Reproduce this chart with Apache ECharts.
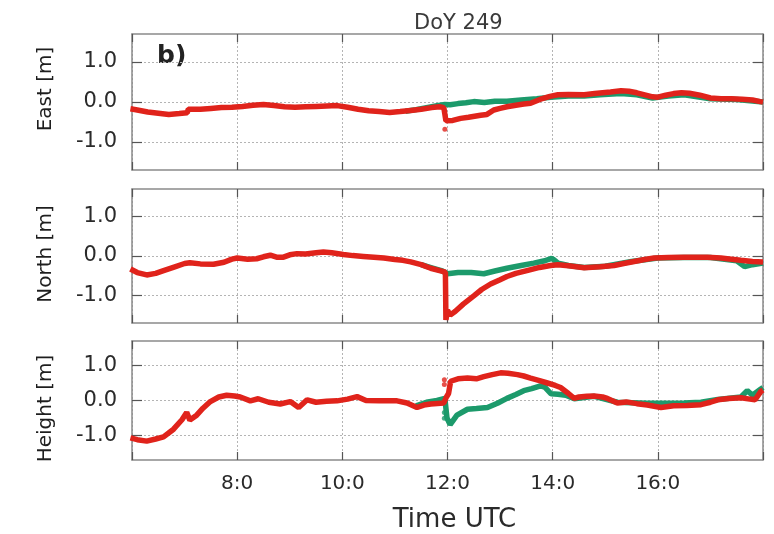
<!DOCTYPE html>
<html><head><meta charset="utf-8">
<script src="https://cdn.jsdelivr.net/npm/echarts@6/dist/echarts.min.js"></script>
<style>html,body{margin:0;padding:0;background:#fff}#c{width:774px;height:534px}</style>
</head><body><div id="c"></div>
<script>
const titleText = 'DoY 249';
const panelTag = 'b)';
const xAxisTitle = 'Time UTC';
const panelNames = ['East [m]', 'North [m]', 'Height [m]'];
const xTickValues = [8, 10, 12, 14, 16];
const xTickLabels = ['8:0', '10:0', '12:0', '14:0', '16:0'];
const yTickValues = [-1, 0, 1];
const yTickLabels = ['-1.0', '0.0', '1.0'];

// East component [time h, metres]
const eastRed = [[5.97,-0.17],[6.1,-0.2],[6.3,-0.25],[6.5,-0.28],[6.7,-0.31],[6.9,-0.29],[7.05,-0.27],[7.07,-0.18],[7.3,-0.18],[7.5,-0.16],[7.7,-0.14],[7.9,-0.13],[8.1,-0.11],[8.3,-0.08],[8.5,-0.06],[8.7,-0.09],[8.9,-0.12],[9.1,-0.13],[9.3,-0.12],[9.5,-0.11],[9.7,-0.1],[9.9,-0.09],[10.1,-0.13],[10.3,-0.18],[10.5,-0.22],[10.7,-0.24],[10.9,-0.26],[11.1,-0.24],[11.3,-0.21],[11.5,-0.18],[11.7,-0.14],[11.85,-0.12],[11.93,-0.14],[11.97,-0.47],[12.0,-0.48],[12.1,-0.46],[12.25,-0.41],[12.4,-0.38],[12.63,-0.33],[12.75,-0.31],[12.88,-0.2],[13.0,-0.16],[13.13,-0.12],[13.3,-0.08],[13.45,-0.05],[13.58,-0.03],[13.77,0.07],[13.95,0.14],[14.1,0.18],[14.3,0.19],[14.6,0.18],[14.8,0.21],[14.95,0.23],[15.1,0.25],[15.3,0.28],[15.45,0.27],[15.6,0.23],[15.75,0.18],[15.9,0.13],[16.0,0.12],[16.15,0.17],[16.3,0.21],[16.45,0.23],[16.6,0.22],[16.8,0.17],[17.0,0.1],[17.2,0.08],[17.4,0.08],[17.6,0.07],[17.8,0.05],[17.95,0.01],[18.0,0.0]];
const eastGreen = [[11.2,-0.23],[11.4,-0.19],[11.6,-0.14],[11.8,-0.09],[11.95,-0.06],[12.05,-0.07],[12.2,-0.04],[12.35,-0.02],[12.5,0.01],[12.7,-0.01],[12.9,0.02],[13.13,0.02],[13.4,0.05],[13.7,0.08],[13.96,0.12],[14.3,0.15],[14.6,0.15],[14.9,0.18],[15.3,0.21],[15.6,0.18],[15.9,0.1],[16.2,0.15],[16.5,0.18],[17.0,0.08],[17.5,0.06],[18.0,0.0]];
const eastRedDots = [[11.95,-0.68]];
const eastGreenDots = [];

// North component
const northRed = [[5.97,-0.33],[6.1,-0.42],[6.28,-0.48],[6.45,-0.44],[6.6,-0.37],[6.8,-0.28],[7.0,-0.19],[7.1,-0.17],[7.3,-0.2],[7.55,-0.21],[7.75,-0.16],[7.9,-0.08],[8.0,-0.05],[8.2,-0.08],[8.37,-0.07],[8.5,-0.02],[8.63,0.02],[8.75,-0.03],[8.88,-0.03],[9.0,0.03],[9.14,0.06],[9.3,0.05],[9.5,0.08],[9.64,0.1],[9.8,0.08],[10.02,0.04],[10.2,0.01],[10.4,-0.01],[10.6,-0.03],[10.79,-0.05],[11.0,-0.09],[11.15,-0.11],[11.3,-0.15],[11.5,-0.22],[11.68,-0.31],[11.85,-0.37],[11.96,-0.41],[11.97,-1.62],[12.0,-1.38],[12.05,-1.5],[12.15,-1.4],[12.3,-1.22],[12.5,-1.01],[12.65,-0.85],[12.82,-0.71],[13.0,-0.6],[13.13,-0.52],[13.3,-0.44],[13.51,-0.37],[13.75,-0.29],[13.96,-0.24],[14.1,-0.22],[14.3,-0.25],[14.6,-0.3],[14.9,-0.27],[15.17,-0.24],[15.35,-0.19],[15.55,-0.14],[15.75,-0.09],[15.93,-0.05],[16.2,-0.04],[16.5,-0.03],[16.94,-0.03],[17.2,-0.05],[17.4,-0.08],[17.58,-0.11],[17.8,-0.14],[18.0,-0.15]];
const northGreen = [[11.5,-0.22],[11.7,-0.3],[11.9,-0.38],[12.0,-0.45],[12.2,-0.42],[12.45,-0.42],[12.69,-0.45],[12.9,-0.38],[13.13,-0.31],[13.4,-0.24],[13.64,-0.18],[13.85,-0.12],[13.98,-0.06],[14.02,-0.09],[14.1,-0.18],[14.3,-0.24],[14.6,-0.29],[15.0,-0.26],[15.5,-0.14],[16.0,-0.05],[16.5,-0.04],[17.0,-0.04],[17.5,-0.12],[17.65,-0.27],[17.8,-0.22],[18.0,-0.18]];
const northRedDots = [];
const northGreenDots = [];

// Height component
const heightRed = [[5.97,-1.07],[6.1,-1.12],[6.28,-1.16],[6.45,-1.1],[6.6,-1.04],[6.79,-0.82],[6.95,-0.55],[7.04,-0.34],[7.1,-0.56],[7.23,-0.42],[7.35,-0.22],[7.49,-0.03],[7.65,0.1],[7.8,0.15],[7.95,0.13],[8.06,0.1],[8.25,-0.01],[8.4,0.05],[8.6,-0.05],[8.82,-0.1],[9.01,-0.03],[9.17,-0.2],[9.33,0.02],[9.5,-0.05],[9.7,-0.02],[9.9,-0.01],[10.1,0.04],[10.28,0.11],[10.45,0.0],[10.7,-0.01],[11.04,-0.01],[11.23,-0.07],[11.42,-0.2],[11.55,-0.13],[11.68,-0.1],[11.93,-0.07],[11.98,0.1],[12.02,0.2],[12.06,0.55],[12.2,0.62],[12.38,0.64],[12.55,0.62],[12.69,0.68],[12.85,0.74],[13.01,0.79],[13.15,0.78],[13.33,0.74],[13.45,0.7],[13.58,0.64],[13.75,0.57],[13.9,0.5],[14.05,0.43],[14.15,0.37],[14.3,0.2],[14.41,0.06],[14.5,0.1],[14.65,0.12],[14.79,0.13],[14.95,0.1],[15.04,0.06],[15.23,-0.07],[15.4,-0.04],[15.6,-0.09],[15.8,-0.13],[16.06,-0.2],[16.3,-0.15],[16.55,-0.14],[16.82,-0.12],[17.0,-0.05],[17.14,0.02],[17.35,0.06],[17.58,0.08],[17.75,0.04],[17.85,0.02],[17.96,0.26],[18.0,0.3]];
const heightGreen = [[11.4,-0.15],[11.6,-0.05],[11.8,0.0],[11.95,0.06],[11.99,-0.5],[12.05,-0.69],[12.18,-0.42],[12.38,-0.25],[12.55,-0.23],[12.76,-0.2],[12.95,-0.08],[13.13,0.06],[13.3,0.17],[13.45,0.28],[13.6,0.34],[13.77,0.42],[13.85,0.38],[13.97,0.19],[14.1,0.18],[14.25,0.15],[14.41,0.05],[14.79,0.12],[15.23,-0.05],[15.8,-0.08],[16.06,-0.08],[16.5,-0.07],[16.82,-0.05],[17.14,0.03],[17.58,0.1],[17.7,0.28],[17.8,0.15],[17.96,0.33],[18.0,0.37]];
const heightRedDots = [[11.94,0.59],[11.94,0.46]];
const heightGreenDots = [[11.94,-0.34],[11.94,-0.51]];

const RED = '#e0231b';
const GREEN = '#1c9a6b';
const FONT = 'DejaVu Sans';

const panels = [
  {red: eastRed, green: eastGreen, redDots: eastRedDots, greenDots: eastGreenDots},
  {red: northRed, green: northGreen, redDots: northRedDots, greenDots: northGreenDots},
  {red: heightRed, green: heightGreen, redDots: heightRedDots, greenDots: heightGreenDots}
];
const gridBoxes = [
  {left: 132, top: 34, width: 631, height: 136},
  {left: 132, top: 189, width: 631, height: 134},
  {left: 132, top: 341, width: 631, height: 126}
];
const namePads = [[0,0,0,26],[0,0,0,4],[0,16,0,0]];

const frame = {color: '#8a8a8a', width: 1.5};
const tickStyle = {color: '#555', width: 1.2};
const gridLine = {type: [2, 2], color: '#b4b4b4', width: 1};
const grid = [], xAxis = [], yAxis = [], series = [];
gridBoxes.forEach((g, i) => {
  grid.push(Object.assign({containLabel: false}, g));
  const last = i === 2;
  xAxis.push({
    gridIndex: i, type: 'value', position: 'bottom', min: 6, max: 18, interval: 2,
    axisLine: {show: true, onZero: false, lineStyle: frame},
    axisTick: {show: true, inside: true, length: 8, lineStyle: tickStyle},
    axisLabel: {show: last, margin: 14, fontSize: 20, color: '#2a2a2a', fontFamily: FONT,
      formatter: v => { const k = xTickValues.indexOf(v); return k >= 0 ? xTickLabels[k] : ''; }},
    splitLine: {show: true, lineStyle: gridLine},
    name: last ? xAxisTitle : '', nameLocation: 'middle', nameGap: 47,
    nameTextStyle: {fontSize: 26, color: '#2a2a2a', fontFamily: FONT, padding: [0, 0, 0, 14]}
  });
  xAxis.push({
    gridIndex: i, type: 'value', position: 'top', min: 6, max: 18, interval: 2,
    axisLine: {show: true, onZero: false, lineStyle: frame},
    axisTick: {show: true, inside: true, length: 8, lineStyle: tickStyle},
    axisLabel: {show: false}, splitLine: {show: false}
  });
  yAxis.push({
    gridIndex: i, type: 'value', position: 'left', min: -1.7, max: 1.7,
    axisLine: {show: true, onZero: false, lineStyle: frame},
    axisTick: {show: true, inside: true, length: 10, customValues: yTickValues, lineStyle: tickStyle},
    axisLabel: {show: true, margin: 15, fontSize: 21, color: '#2a2a2a', fontFamily: FONT, customValues: yTickValues,
      formatter: v => { const k = yTickValues.indexOf(v); return k >= 0 ? yTickLabels[k] : ''; }},
    splitLine: {show: true, lineStyle: gridLine},
    name: panelNames[i], nameLocation: 'middle', nameGap: 76, nameRotate: 90,
    nameTextStyle: {fontSize: 20, color: '#1e1e1e', fontFamily: FONT, padding: namePads[i]}
  });
  yAxis.push({
    gridIndex: i, type: 'value', position: 'right', min: -1.7, max: 1.7,
    axisLine: {show: true, onZero: false, lineStyle: frame},
    axisTick: {show: true, inside: true, length: 10, customValues: yTickValues, lineStyle: tickStyle},
    axisLabel: {show: false}, splitLine: {show: false}
  });
  const p = panels[i];
  series.push({type: 'line', xAxisIndex: 2 * i, yAxisIndex: 2 * i, data: p.green, showSymbol: false, z: 2,
    lineStyle: {color: GREEN, width: 5.5}, itemStyle: {color: GREEN}, animation: false, silent: true});
  series.push({type: 'line', xAxisIndex: 2 * i, yAxisIndex: 2 * i, data: p.red, showSymbol: false, z: 3,
    lineStyle: {color: RED, width: 5.5}, itemStyle: {color: RED}, animation: false, silent: true});
  series.push({type: 'scatter', xAxisIndex: 2 * i, yAxisIndex: 2 * i, data: p.greenDots, symbolSize: 5, z: 2,
    itemStyle: {color: GREEN}, animation: false, silent: true});
  series.push({type: 'scatter', xAxisIndex: 2 * i, yAxisIndex: 2 * i, data: p.redDots, symbolSize: 5, z: 3,
    itemStyle: {color: RED}, animation: false, silent: true});
});

const chart = echarts.init(document.getElementById('c'), null, {renderer: 'canvas'});
chart.setOption({
  backgroundColor: '#fff',
  animation: false,
  title: {text: titleText, left: 409, top: 8, textStyle: {fontSize: 21, fontWeight: 'normal', color: '#3a3a3a', fontFamily: FONT}},
  grid, xAxis, yAxis, series,
  graphic: [{type: 'text', left: 157, top: 44, silent: true,
    style: {text: panelTag, fontSize: 25, fontWeight: 'bold', fill: '#222', fontFamily: FONT}}]
});
</script></body></html>
